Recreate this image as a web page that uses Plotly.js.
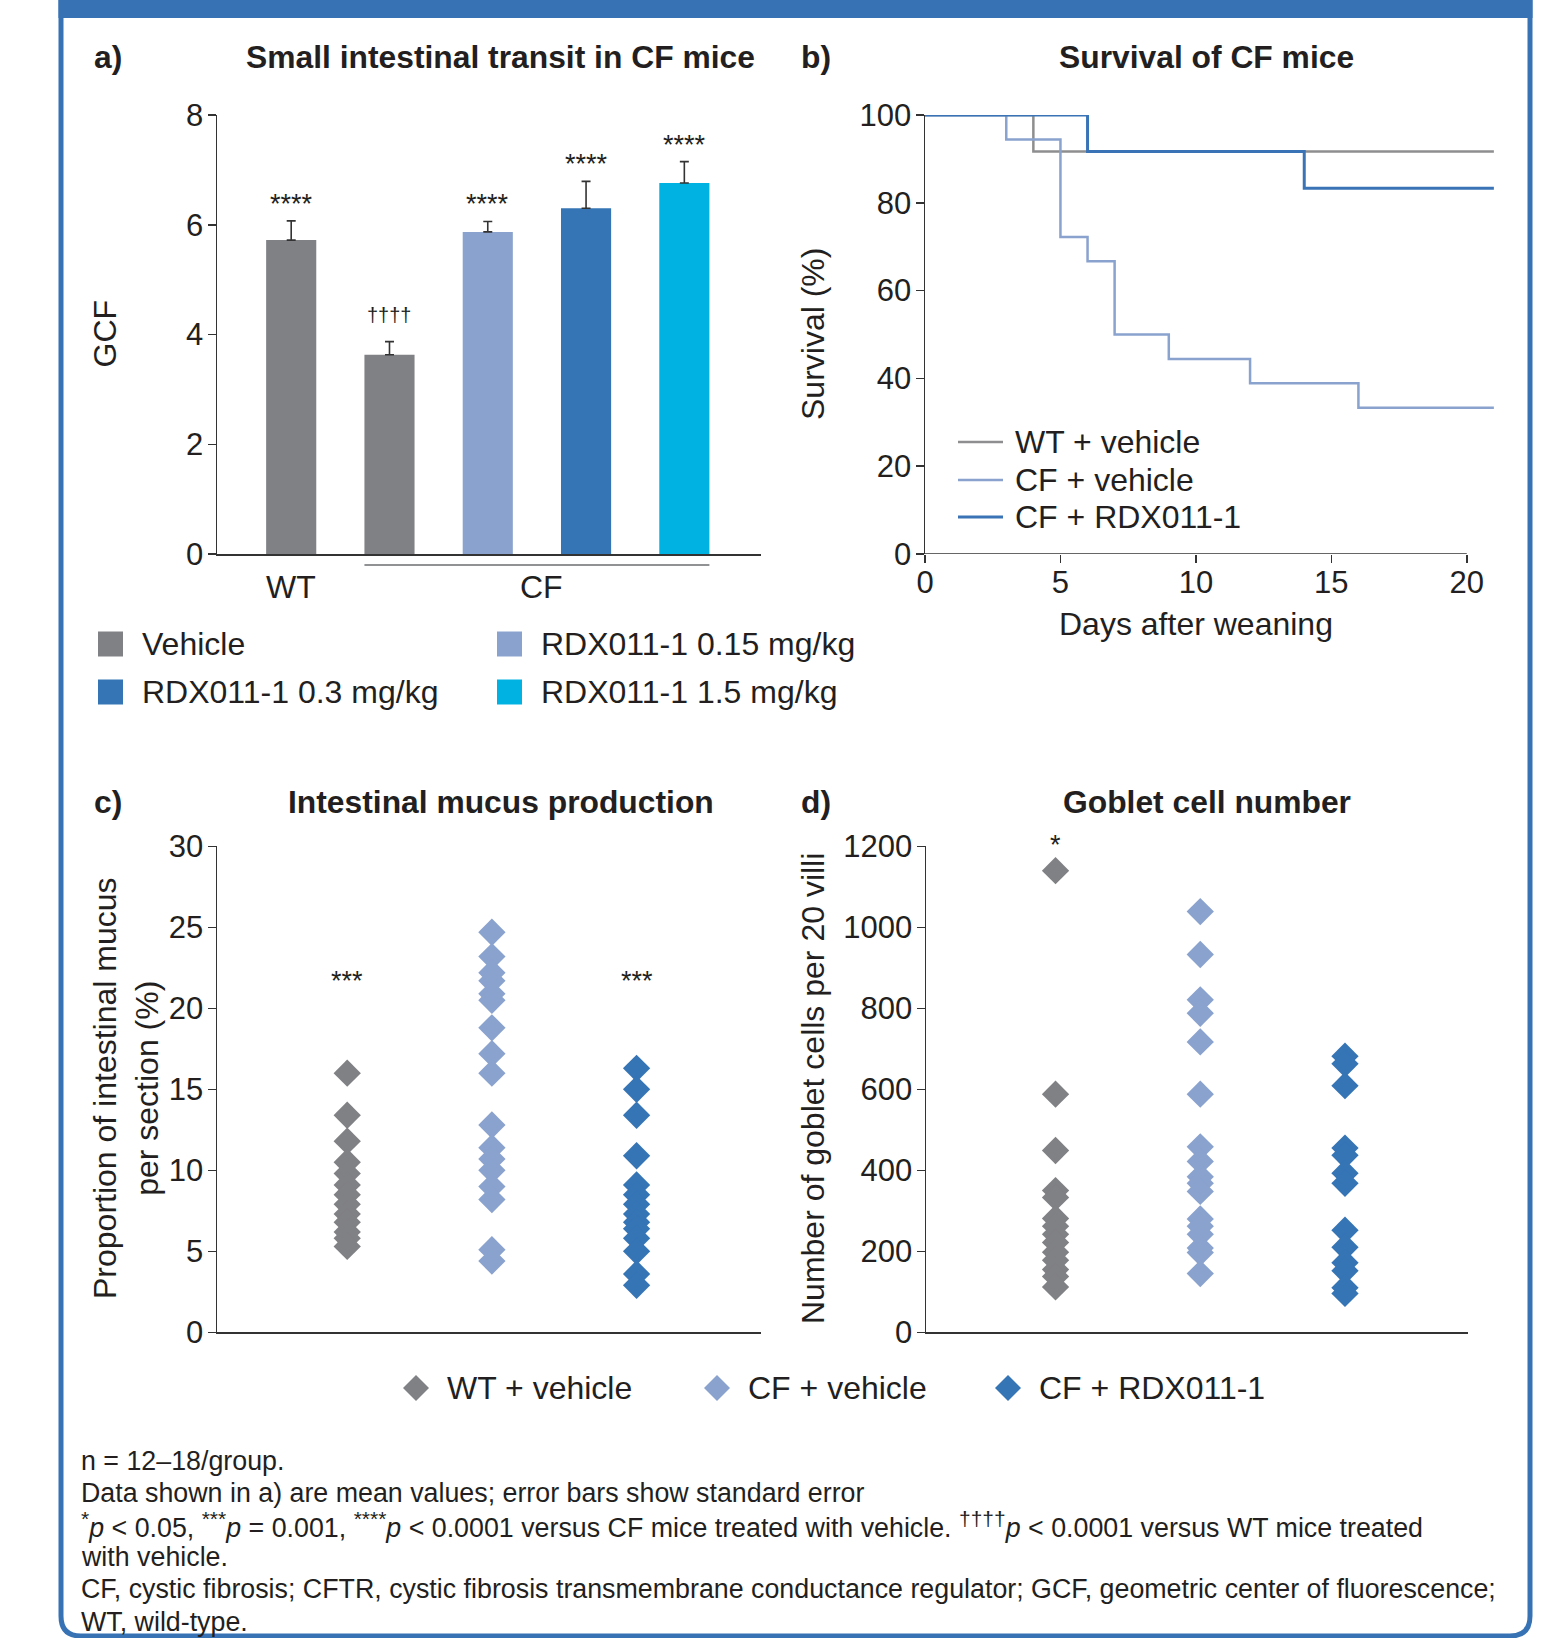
<!DOCTYPE html>
<html><head><meta charset="utf-8">
<script src="https://cdn.plot.ly/plotly-3.0.1.min.js"></script>
<style>html,body{margin:0;padding:0;background:#fff;} #chart{width:1557px;height:1638px;}</style>
</head><body><div id="chart"></div>
<script>
// ---------- DATA ----------
const barGroups = ['WT vehicle','CF vehicle','CF RDX011-1 0.15 mg/kg','CF RDX011-1 0.3 mg/kg','CF RDX011-1 1.5 mg/kg'];
const gcfMean = [5.72, 3.63, 5.87, 6.30, 6.76];
const gcfSE   = [0.35, 0.24, 0.19, 0.49, 0.39];
const gcfMarks = ['****', '††††', '****', '****', '****'];

const wtDays  = [0, 4, 21];
const wtSurv  = [100, 91.7, 91.7];
const cfvDays = [0, 3, 5, 6, 7, 9, 12, 16, 21];
const cfvSurv = [100, 94.4, 72.2, 66.7, 50.0, 44.4, 38.9, 33.3, 33.3];
const rdxDays = [0, 6, 14, 21];
const rdxSurv = [100, 91.7, 83.3, 83.3];

const mucusWT  = [16.0, 13.4, 11.8, 10.5, 9.8, 9.1, 8.5, 7.9, 7.3, 6.8, 6.2, 5.8, 5.3];
const mucusCF  = [24.7, 23.2, 22.2, 21.7, 20.9, 20.5, 18.8, 17.2, 16.0, 12.8, 11.4, 10.7, 10.0, 9.0, 8.2, 5.1, 4.4];
const mucusRDX = [16.3, 15.0, 13.4, 10.9, 9.1, 8.5, 7.9, 7.3, 6.8, 6.4, 5.8, 5.0, 3.6, 2.9];
const mucusMarks = ['***', '', '***'];

const gobletWT  = [1140, 588, 449, 350, 333, 281, 262, 242, 222, 198, 178, 155, 138, 112];
const gobletCF  = [1039, 933, 821, 788, 717, 588, 458, 422, 384, 368, 348, 280, 262, 242, 208, 197, 145];
const gobletRDX = [682, 663, 609, 455, 437, 393, 368, 252, 210, 172, 152, 110, 96];
const gobletMarks = ['*', '', ''];

const barLegend = ['Vehicle', 'RDX011-1 0.15 mg/kg', 'RDX011-1 0.3 mg/kg', 'RDX011-1 1.5 mg/kg'];
const groupLegend = ['WT + vehicle', 'CF + vehicle', 'CF + RDX011-1'];

// ---------- STYLE ----------
const W = 1557, H = 1638;
const px = x => x / W;
const py = y => 1 - y / H;
const GRAY = '#808185', LBLUE = '#8aa2ce', BLUE = '#3574b5', CYAN = '#00b2e1', FRAME = '#3773b4';
const TXT = '#231f20', AX = '#333333';
const barColors = [GRAY, GRAY, LBLUE, BLUE, CYAN];
const FONT = 'Liberation Sans, Arial, Helvetica, sans-serif';
const DSIZE = 21;
const TSIZE = 31.8;

const traces = [];
traces.push({
  type: 'bar', x: barGroups.map((_, i) => i), y: gcfMean, width: 0.51,
  marker: {color: barColors, line: {width: 0}},
  error_y: {type: 'data', symmetric: false, array: gcfSE, arrayminus: gcfSE.map(() => 0),
            color: AX, thickness: 1.6, width: 4.5},
  xaxis: 'x', yaxis: 'y', hoverinfo: 'skip', cliponaxis: false
});
[[wtDays, wtSurv, '#8e8e90', 2.5], [cfvDays, cfvSurv, LBLUE, 2.5], [rdxDays, rdxSurv, '#3a74b6', 3]].forEach(s => {
  traces.push({type: 'scatter', mode: 'lines', x: s[0], y: s[1], line: {shape: 'hv', color: s[2], width: s[3]},
               xaxis: 'x2', yaxis: 'y2', cliponaxis: false, hoverinfo: 'skip'});
});
const grpColors = [GRAY, LBLUE, BLUE];
[mucusWT, mucusCF, mucusRDX].forEach((v, g) => {
  traces.push({type: 'scatter', mode: 'markers', x: v.map(() => g), y: v,
    marker: {symbol: 'diamond', size: DSIZE, color: grpColors[g], line: {width: 0}},
    xaxis: 'x3', yaxis: 'y3', cliponaxis: false, hoverinfo: 'skip'});
});
[gobletWT, gobletCF, gobletRDX].forEach((v, g) => {
  traces.push({type: 'scatter', mode: 'markers', x: v.map(() => g), y: v,
    marker: {symbol: 'diamond', size: DSIZE, color: grpColors[g], line: {width: 0}},
    xaxis: 'x4', yaxis: 'y4', cliponaxis: false, hoverinfo: 'skip'});
});

const axBase = {showgrid: false, zeroline: false, showline: true, linecolor: AX, linewidth: 1.5,
  ticks: 'outside', ticklen: 8, tickcolor: AX, tickwidth: 1.5, tickfont: {size: 31, color: TXT}, fixedrange: true};
const noTicks = {ticks: '', showticklabels: false};
const yStand = {ticklabelstandoff: -2};

const layout = {
  width: W, height: H, margin: {l: 0, r: 0, t: 0, b: 0}, showlegend: false,
  paper_bgcolor: '#ffffff', plot_bgcolor: 'rgba(0,0,0,0)',
  font: {family: FONT, color: TXT, size: 31},
  xaxis:  Object.assign({}, axBase, noTicks, {domain: [px(217), px(761)], range: [-0.755, 4.78], anchor: 'y'}),
  yaxis:  Object.assign({}, axBase, yStand, {domain: [py(554), py(115)], range: [0, 8], tickvals: [0, 2, 4, 6, 8], anchor: 'x'}),
  xaxis2: Object.assign({}, axBase, {showline: false, ticklabelstandoff: -7, domain: [px(925), px(1502)], range: [0, 21.3], tickvals: [0, 5, 10, 15, 20], anchor: 'y2'}),
  yaxis2: Object.assign({}, axBase, yStand, {domain: [py(554), py(115)], range: [0, 100], tickvals: [0, 20, 40, 60, 80, 100], anchor: 'x2'}),
  xaxis3: Object.assign({}, axBase, noTicks, {domain: [px(217), px(761)], range: [-0.9, 2.86], anchor: 'y3'}),
  yaxis3: Object.assign({}, axBase, yStand, {domain: [py(1332.3), py(846.4)], range: [0, 30], tickvals: [0, 5, 10, 15, 20, 25, 30], anchor: 'x3'}),
  xaxis4: Object.assign({}, axBase, noTicks, {domain: [px(926), px(1468)], range: [-0.895, 2.85], anchor: 'y4'}),
  yaxis4: Object.assign({}, axBase, yStand, {domain: [py(1332.3), py(846.4)], range: [0, 1200], tickvals: [0, 200, 400, 600, 800, 1000, 1200], anchor: 'x4'}),
  shapes: [], annotations: []
};

const S = layout.shapes, A = layout.annotations;
const P = (x, y) => px(x).toFixed(6) + ',' + py(y).toFixed(6);
// frame
S.push({type: 'rect', xref: 'paper', yref: 'paper', x0: px(58.5), x1: px(1532.5), y0: py(18), y1: py(0), fillcolor: FRAME, line: {width: 0}});
S.push({type: 'path', xref: 'paper', yref: 'paper',
  path: 'M' + P(61, 0) + ' L' + P(61, 1616) + ' Q' + P(61, 1636) + ' ' + P(81, 1636) + ' L' + P(1510, 1636) +
        ' Q' + P(1530, 1636) + ' ' + P(1530, 1616) + ' L' + P(1530, 0),
  line: {color: FRAME, width: 5}});
// panel b x-axis line (0..20 only)
S.push({type: 'line', xref: 'x2', yref: 'y2', x0: 0, x1: 20, y0: 0, y1: 0, line: {color: AX, width: 1.5}});
// CF underline in panel a
S.push({type: 'line', xref: 'x', yref: 'paper', x0: 1 - 0.255, x1: 4 + 0.255, y0: py(565), y1: py(565), line: {color: '#6d6e71', width: 1.5}});

const ann = (x, y, text, o) => A.push(Object.assign({xref: 'paper', yref: 'paper', x: px(x), y: py(y), text: text, showarrow: false,
  xanchor: 'center', yanchor: 'middle', font: {size: 32, color: TXT}}, o || {}));

// panel labels + titles
ann(92, 57, '<b>a)</b>', {xanchor: 'left', font: {size: TSIZE}});
ann(799, 57, '<b>b)</b>', {xanchor: 'left', font: {size: TSIZE}});
ann(92, 802, '<b>c)</b>', {xanchor: 'left', font: {size: TSIZE}});
ann(799, 802, '<b>d)</b>', {xanchor: 'left', font: {size: TSIZE}});
ann(500.5, 57, '<b>Small intestinal transit in CF mice</b>', {font: {size: TSIZE}});
ann(1206.5, 57, '<b>Survival of CF mice</b>', {font: {size: TSIZE}});
ann(501, 802, '<b>Intestinal mucus production</b>', {font: {size: TSIZE}});
ann(1207, 802, '<b>Goblet cell number</b>', {font: {size: TSIZE}});

// axis titles
ann(104.5, 334, 'GCF', {textangle: -90});
ann(813, 334, 'Survival (%)', {textangle: -90});
ann(1196, 624, 'Days after weaning');
ann(126, 1088, 'Proportion of intestinal mucus<br>per section (%)', {textangle: -90});
ann(813, 1089, 'Number of goblet cells per 20 villi', {textangle: -90});

// group labels panel a
A.push({xref: 'x', yref: 'paper', x: 0, y: py(587), text: 'WT', showarrow: false, font: {size: 32, color: TXT}});
A.push({xref: 'x', yref: 'paper', x: 2.55, y: py(587), text: 'CF', showarrow: false, font: {size: 32, color: TXT}});

// significance marks panel a
gcfMarks.forEach((m, i) => {
  const dag = m.indexOf('†') >= 0;
  A.push({xref: 'x', yref: 'y', x: i, y: gcfMean[i] + gcfSE[i], text: m, showarrow: false, yanchor: 'middle',
          yshift: dag ? 27 : 17, font: {size: dag ? 20 : 27, color: TXT}});
});
mucusMarks.forEach((m, g) => { if (m) A.push({xref: 'x3', yref: 'paper', x: g, y: py(981), text: m, showarrow: false, font: {size: 27, color: TXT}}); });
gobletMarks.forEach((m, g) => { if (m) A.push({xref: 'x4', yref: 'paper', x: g, y: py(845), text: m, showarrow: false, font: {size: 27, color: TXT}}); });

// legend panel a
const legA = [[98, 644, GRAY], [497, 644, LBLUE], [98, 692, BLUE], [497, 692, CYAN]];
legA.forEach((l, i) => {
  S.push({type: 'rect', xref: 'paper', yref: 'paper', x0: px(l[0]), x1: px(l[0] + 25), y0: py(l[1] + 12.5), y1: py(l[1] - 12.5), fillcolor: l[2], line: {width: 0}});
  ann(l[0] + 42, l[1], barLegend[i], {xanchor: 'left'});
});
// legend panel b
const legB = [[442, '#8e8e90', 2.5], [480, LBLUE, 2.5], [517, '#3a74b6', 3]];
legB.forEach((l, i) => {
  S.push({type: 'line', xref: 'paper', yref: 'paper', x0: px(958), x1: px(1003), y0: py(l[0]), y1: py(l[0]), line: {color: l[1], width: l[2]}});
  ann(1013, l[0], groupLegend[i], {xanchor: 'left'});
});
// legend panels c/d
const legC = [416, 717, 1008];
legC.forEach((x, i) => {
  const r = 13, y = 1388;
  S.push({type: 'path', xref: 'paper', yref: 'paper', path: 'M' + P(x, y - r) + ' L' + P(x + r, y) + ' L' + P(x, y + r) + ' L' + P(x - r, y) + ' Z',
          fillcolor: grpColors[i], line: {width: 0}});
  ann(x + 29, y, groupLegend[i], {xanchor: 'left'});
});

// footnotes
const sup = t => '<sup><span style="font-size:21px">' + t + '</span></sup>';
const notes = [
  'n = 12–18/group.',
  'Data shown in a) are mean values; error bars show standard error',
  sup('*') + '<i>p</i> &lt; 0.05, ' + sup('***') + '<i>p</i> = 0.001, ' + sup('****') + '<i>p</i> &lt; 0.0001 versus CF mice treated with vehicle. ' + sup('††††') + '<i>p</i> &lt; 0.0001 versus WT mice treated',
  'with vehicle.',
  'CF, cystic fibrosis; CFTR, cystic fibrosis transmembrane conductance regulator; GCF, geometric center of fluorescence;',
  'WT, wild-type.'
];
const noteY = [1461, 1493, 1525, 1557, 1589, 1622];
notes.forEach((t, i) => ann(79, noteY[i], t, {xanchor: 'left', font: {size: 26.8}}));

Plotly.newPlot('chart', traces, layout, {staticPlot: true, displayModeBar: false});
</script></body></html>
